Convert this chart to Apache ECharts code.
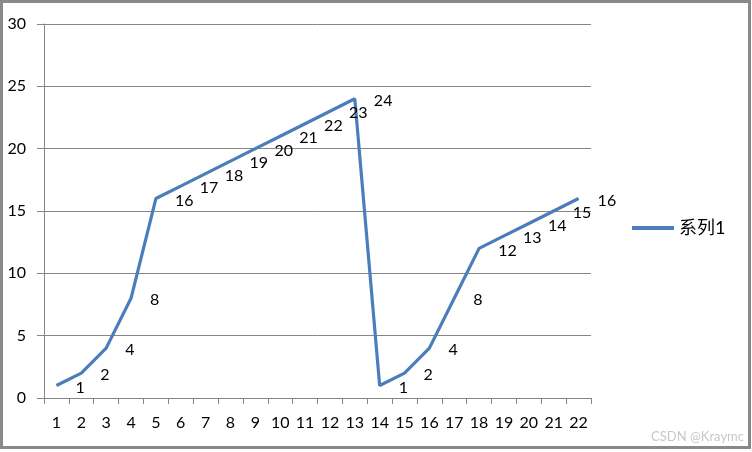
<!DOCTYPE html>
<html><head><meta charset="utf-8">
<script src="https://cdn.jsdelivr.net/npm/echarts@6/dist/echarts.min.js"></script>
<style>html,body{margin:0;padding:0;background:#fff}#c{width:752px;height:452px}</style>
</head><body><div id="c"></div>
<script>
const categories = ['1','2','3','4','5','6','7','8','9','10','11','12','13','14','15','16','17','18','19','20','21','22'];
const seriesName = '系列1';
const values = [1,2,4,8,16,17,18,19,20,21,22,23,24,1,2,4,8,12,13,14,15,16];
const yTicks = { min: 0, max: 30, interval: 5 };
const watermark = 'CSDN @Kraymc';

const FONT = 'Lato, "Noto Sans CJK SC", sans-serif';
const chart = echarts.init(document.getElementById('c'), null, { renderer: 'canvas' });
chart.setOption({
  animation: false,
  backgroundColor: '#fff',
  textStyle: { fontFamily: FONT },
  grid: { left: 44, right: 161, top: 24, bottom: 54 },
  xAxis: {
    type: 'category', data: categories, boundaryGap: true,
    axisLine: { lineStyle: { color: '#868686', width: 1 } },
    axisTick: { show: true, interval: 0, length: 6, lineStyle: { color: '#868686' } },
    axisLabel: { interval: 0, color: '#000', fontSize: 16, fontFamily: FONT, margin: 17 }
  },
  yAxis: {
    type: 'value', min: yTicks.min, max: yTicks.max, interval: yTicks.interval,
    axisLine: { show: true, lineStyle: { color: '#868686', width: 1 } },
    axisTick: { show: true, length: 7, lineStyle: { color: '#868686' } },
    axisLabel: { color: '#000', fontSize: 16, fontFamily: FONT, margin: 18 },
    splitLine: { lineStyle: { color: '#868686', width: 1 } }
  },
  legend: {
    orient: 'vertical', left: 627, top: 214,
    itemWidth: 42, itemHeight: 4, itemGap: 5,
    data: [{ name: seriesName, icon: 'rect' }],
    textStyle: { color: '#000', fontSize: 18, fontFamily: FONT }
  },
  series: [{
    name: seriesName, type: 'line', data: values,
    symbol: 'circle', symbolSize: 0.1, showSymbol: true,
    itemStyle: { color: '#4A7EBB' },
    lineStyle: { color: '#4A7EBB', width: 3.2 },
    label: { show: true, position: 'right', distance: 19, offset: [0, 2], color: '#000', fontSize: 16, fontFamily: FONT }
  }],
  graphic: [
    { type: 'rect', shape: { x: 1.5, y: 1.5, width: 748, height: 446 }, style: { fill: 'none', stroke: '#898989', lineWidth: 3 }, silent: true },
    { type: 'text', right: 8, top: 430, style: { text: watermark, fill: '#c8c8c8', font: '13px ' + FONT } }
  ]
});
</script></body></html>
